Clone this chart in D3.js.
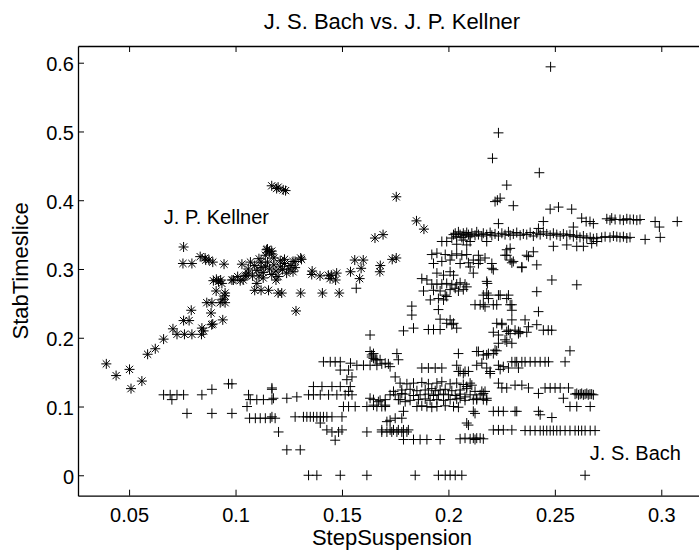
<!DOCTYPE html>
<html>
<head>
<meta charset="utf-8">
<script src="https://cdn.jsdelivr.net/npm/d3@7"></script>
<style>
  body { margin: 0; background: #fff; }
  svg { display: block; font-family: "Liberation Sans", Arial, Helvetica, sans-serif; }
</style>
</head>
<body>
<svg id="chart"></svg>
<script>
// Figure size and axes box (right edge is outside the cropped figure)
const width = 699;
const height = 552;
const box = { left: 78, right: 706, top: 46, bottom: 495.7 };

// Tick values and labels
const xTicks = [0.05, 0.1, 0.15, 0.2, 0.25, 0.3];
const xTickLabels = ["0.05", "0.1", "0.15", "0.2", "0.25", "0.3"];
const yTicks = [0, 0.1, 0.2, 0.3, 0.4, 0.5, 0.6];
const yTickLabels = ["0", "0.1", "0.2", "0.3", "0.4", "0.5", "0.6"];

// J. P. Kellner pieces: [StepSuspension, StabTimeslice]
const kellner = [
  [0.0393,0.162],[0.0439,0.145],[0.0502,0.154],[0.0509,0.126],[0.0560,0.137],
  [0.0587,0.176],[0.0623,0.184],[0.0662,0.198],[0.0706,0.213],
  [0.0725,0.205],[0.0760,0.205],[0.0795,0.205],[0.0756,0.225],[0.0782,0.225],[0.0792,0.240],
  [0.0840,0.205],[0.0842,0.214],[0.0850,0.210],
  [0.0756,0.332],[0.0753,0.308],[0.0795,0.308],
  [0.0834,0.318],[0.0857,0.316],[0.0860,0.313],[0.0875,0.313],[0.0893,0.310],[0.0946,0.307],
  [0.0865,0.251],[0.0889,0.251],[0.0928,0.251],[0.0951,0.251],[0.0940,0.256],
  [0.0885,0.236],[0.0893,0.220],[0.0940,0.226],[0.0888,0.219],
  [0.0896,0.283],[0.0910,0.285],[0.0920,0.282],[0.0930,0.284],[0.0936,0.279],
  [0.0909,0.268],[0.0951,0.265],[0.0950,0.261],
  [0.0983,0.284],[0.0990,0.284],[0.1010,0.289],[0.1022,0.283],[0.1036,0.284],[0.1045,0.290],
  [0.1050,0.291],[0.1060,0.294],[0.1030,0.307],
  [0.1060,0.300],[0.1070,0.310],[0.1080,0.290],[0.1090,0.305],[0.1100,0.298],[0.1100,0.279],
  [0.1110,0.315],[0.1110,0.290],[0.1120,0.302],[0.1120,0.310],[0.1130,0.295],[0.1130,0.287],
  [0.1140,0.320],[0.1140,0.304],[0.1146,0.328],[0.1150,0.310],[0.1150,0.329],[0.1160,0.325],
  [0.1160,0.300],[0.1170,0.322],[0.1170,0.292],[0.1170,0.326],[0.1180,0.306],[0.1180,0.316],
  [0.1190,0.297],[0.1190,0.284],[0.1200,0.289],[0.1210,0.303],[0.1210,0.312],[0.1220,0.299],
  [0.1230,0.308],[0.1230,0.314],[0.1240,0.294],[0.1250,0.300],[0.1260,0.305],[0.1270,0.296],
  [0.1270,0.311],[0.1280,0.302],[0.1280,0.311],[0.1306,0.316],[0.1310,0.314],
  [0.1090,0.269],[0.1120,0.269],[0.1155,0.269],[0.1200,0.265],[0.1217,0.265],
  [0.1306,0.265],[0.1408,0.265],[0.1487,0.265],[0.1284,0.239],
  [0.1170,0.421],[0.1193,0.417],[0.1200,0.419],[0.1224,0.415],[0.1235,0.414],
  [0.1358,0.292],[0.1360,0.297],[0.1397,0.290],[0.1436,0.291],[0.1444,0.286],
  [0.1450,0.291],[0.1470,0.284],[0.1475,0.294],
  [0.1540,0.296],[0.1560,0.313],[0.1600,0.313],[0.1590,0.301],[0.1583,0.286],
  [0.1680,0.305],[0.1678,0.296],[0.1736,0.314],[0.1755,0.316],
  [0.1655,0.345],[0.1693,0.350],
  [0.1755,0.405],[0.1850,0.370],[0.1885,0.358]
];

// J. S. Bach pieces: [StepSuspension, StabTimeslice]
const bach = [
  [0.0662,0.117],[0.0693,0.117],[0.0725,0.117],[0.0756,0.117],[0.0701,0.110],
  [0.0842,0.117],[0.0889,0.125],[0.0772,0.090],[0.0889,0.090],[0.0983,0.090],
  [0.0967,0.133],[0.0983,0.133],
  [0.1054,0.100],[0.1069,0.110],[0.1061,0.117],[0.1100,0.110],[0.1131,0.110],[0.1171,0.110],[0.1171,0.125],
  [0.1066,0.083],[0.1093,0.083],[0.1116,0.083],[0.1140,0.083],[0.1163,0.083],[0.1186,0.083],
  [0.1202,0.063],[0.1171,0.085],[0.1178,0.112],[0.1171,0.127],[0.1241,0.112],[0.1288,0.114],
  [0.1241,0.037],[0.1304,0.037],
  [0.1280,0.085],[0.1319,0.085],[0.1335,0.085],[0.1351,0.085],[0.1366,0.085],[0.1382,0.085],
  [0.1398,0.085],[0.1413,0.085],[0.1429,0.085],[0.1453,0.085],[0.1500,0.085],
  [0.1398,0.076],[0.1429,0.066],[0.1453,0.063],[0.1468,0.051],[0.1484,0.063],[0.1500,0.066],
  [0.1343,0.117],[0.1366,0.117],[0.1398,0.117],[0.1437,0.117],[0.1476,0.117],[0.1515,0.117],[0.1547,0.117],
  [0.1366,0.129],[0.1406,0.129],[0.1453,0.129],[0.1492,0.129],
  [0.1492,0.153],[0.1531,0.153],[0.1523,0.139],[0.1547,0.143],[0.1539,0.129],[0.1531,0.122],
  [0.1507,0.100],[0.1531,0.100],[0.1562,0.100],[0.1617,0.100],[0.1664,0.100],[0.1703,0.100],
  [0.1413,0.165],[0.1445,0.165],[0.1468,0.165],[0.1492,0.165],[0.1540,0.163],[0.1570,0.160],
  [0.1601,0.160],[0.1632,0.160],[0.1664,0.160],[0.1687,0.162],[0.1718,0.162],
  [0.1567,0.272],[0.1632,0.204],[0.1632,0.180],[0.1640,0.175],[0.1648,0.170],[0.1664,0.168],
  [0.1617,0.063],[0.1687,0.063],[0.1711,0.063],[0.1734,0.063],[0.1758,0.063],[0.1781,0.063],[0.1805,0.063],
  [0.1343,0],[0.1382,0],[0.1492,0],[0.1617,0],[0.1844,0],[0.1953,0],[0.1985,0],[0.2008,0],
  [0.2032,0],[0.2063,0],[0.2642,0],[0.2086,0.076],
  [0.1648,0.177],[0.1656,0.168],[0.1640,0.172],[0.1679,0.168],[0.1703,0.163],[0.1726,0.158],
  [0.1758,0.177],[0.1765,0.168],[0.1750,0.143],
  [0.1875,0.156],[0.1906,0.156],[0.1938,0.156],[0.1969,0.156],
  [0.2047,0.177],[0.2039,0.160],[0.2047,0.151],[0.2070,0.148],[0.2094,0.151],
  [0.2133,0.180],[0.2164,0.175],[0.2188,0.177],[0.2219,0.182],[0.2235,0.192],[0.2274,0.194],
  [0.2141,0.180],[0.2180,0.175],[0.2211,0.177],[0.2227,0.181],[0.2266,0.197],[0.2298,0.192],
  [0.2133,0.160],[0.2157,0.163],[0.2180,0.156],[0.2196,0.148],
  [0.2235,0.160],[0.2258,0.158],[0.2282,0.156],[0.2313,0.165],[0.2329,0.156],
  [0.1773,0.134],[0.1805,0.133],[0.1836,0.134],[0.1875,0.135],[0.1906,0.133],[0.1946,0.134],
  [0.1969,0.136],[0.2008,0.133],[0.2039,0.134],[0.2070,0.132],[0.2102,0.134],
  [0.1781,0.124],[0.1820,0.125],[0.1852,0.123],[0.1891,0.124],[0.1922,0.126],[0.1938,0.123],
  [0.1961,0.124],[0.1985,0.125],[0.2016,0.123],[0.2055,0.124],[0.2086,0.126],
  [0.1726,0.117],[0.1750,0.117],[0.1797,0.118],[0.1836,0.116],[0.1867,0.117],[0.1906,0.118],
  [0.1930,0.116],[0.1953,0.117],[0.1977,0.118],[0.2000,0.117],[0.2032,0.116],[0.2055,0.118],
  [0.2102,0.117],[0.2149,0.117],
  [0.1648,0.110],[0.1679,0.109],[0.1703,0.110],[0.1773,0.110],[0.1820,0.109],[0.1859,0.110],
  [0.1891,0.111],[0.1914,0.109],[0.1946,0.110],[0.1977,0.109],[0.2008,0.110],[0.2039,0.111],
  [0.2078,0.109],[0.2133,0.110],[0.2180,0.109],
  [0.1852,0.100],[0.1875,0.101],[0.1899,0.100],[0.1922,0.099],[0.1946,0.100],[0.1985,0.101],
  [0.2024,0.100],[0.2047,0.099],
  [0.2235,0.134],[0.2251,0.127],[0.2274,0.127],[0.2313,0.131],
  [0.1632,0.112],[0.1648,0.102],[0.1671,0.107],[0.1687,0.100],[0.1703,0.102],
  [0.1742,0.122],[0.1765,0.110],[0.1781,0.119],[0.1797,0.107],
  [0.2133,0.112],[0.2164,0.119],[0.2180,0.112],
  [0.2211,0.093],[0.2235,0.093],[0.2258,0.093],[0.2313,0.093],[0.2125,0.090],[0.2094,0.073],
  [0.1789,0.093],[0.1781,0.083],[0.1750,0.083],[0.1726,0.080],[0.1711,0.078],
  [0.1687,0.066],[0.1726,0.066],[0.1742,0.066],[0.1765,0.066],[0.1789,0.066],[0.1812,0.066],
  [0.1789,0.052],[0.1836,0.052],[0.1867,0.052],[0.1899,0.052],[0.1961,0.052],[0.2055,0.053],
  [0.2078,0.054],[0.2102,0.053],[0.2117,0.054],[0.2125,0.052],[0.2133,0.054],[0.2149,0.054],[0.2164,0.053],
  [0.2211,0.066],[0.2235,0.066],[0.2258,0.066],[0.2298,0.066],
  [0.2360,0.065],[0.2384,0.065],[0.2407,0.065],[0.2431,0.065],[0.2446,0.065],[0.2462,0.065],
  [0.2478,0.065],[0.2493,0.065],[0.2509,0.065],[0.2525,0.065],[0.2548,0.065],[0.2571,0.065],
  [0.2595,0.065],[0.2611,0.065],[0.2626,0.065],[0.2642,0.065],[0.2666,0.065],[0.2689,0.065],
  [0.2211,0.208],[0.2337,0.208],[0.2368,0.208],[0.2571,0.181],[0.2548,0.165],
  [0.2298,0.165],[0.2321,0.165],[0.2345,0.165],[0.2360,0.165],[0.2384,0.165],[0.2407,0.165],
  [0.2431,0.165],[0.2454,0.165],[0.2470,0.165],
  [0.2243,0.154],[0.2196,0.151],[0.2055,0.151],[0.2078,0.151],
  [0.2086,0.129],[0.2110,0.131],[0.2125,0.122],[0.2157,0.122],[0.2172,0.122],
  [0.2345,0.131],[0.2376,0.127],[0.2423,0.119],[0.2454,0.127],[0.2478,0.127],[0.2501,0.127],
  [0.2525,0.127],[0.2564,0.127],
  [0.2595,0.118],[0.2603,0.119],[0.2611,0.117],[0.2619,0.118],[0.2626,0.119],[0.2634,0.117],
  [0.2642,0.118],[0.2650,0.119],[0.2657,0.117],[0.2665,0.118],[0.2673,0.118],[0.2681,0.117],
  [0.2540,0.112],[0.2571,0.100],[0.2603,0.100],[0.2666,0.100],
  [0.2055,0.112],[0.2078,0.114],[0.2117,0.110],[0.2164,0.110],
  [0.2117,0.093],[0.2321,0.093],[0.2423,0.093],[0.2431,0.088],[0.2486,0.084],
  [0.2235,0.366],
  [0.1969,0.340],[0.1992,0.340],[0.2039,0.336],[0.2070,0.342],[0.2086,0.335],[0.2102,0.340],
  [0.1922,0.321],[0.1946,0.323],[0.1985,0.321],[0.2016,0.320],[0.2039,0.322],[0.2063,0.320],[0.2086,0.321],
  [0.2180,0.340],[0.2274,0.320],[0.2290,0.330],[0.2298,0.309],[0.2305,0.311],
  [0.1930,0.308],[0.1969,0.311],[0.2008,0.313],[0.2055,0.308],[0.2094,0.309],[0.2102,0.303],
  [0.2141,0.320],[0.2149,0.313],[0.2172,0.316],[0.2204,0.308],
  [0.1875,0.286],[0.1899,0.284],[0.1946,0.294],[0.1977,0.291],[0.2008,0.296],[0.2024,0.291],
  [0.1922,0.278],[0.1946,0.278],[0.1969,0.278],[0.1992,0.279],[0.2016,0.277],[0.2039,0.278],
  [0.2055,0.280],[0.2078,0.278],[0.2117,0.294],[0.2180,0.282],
  [0.1883,0.268],[0.1930,0.269],[0.1961,0.268],[0.1985,0.262],[0.2008,0.270],[0.2032,0.272],
  [0.2047,0.268],[0.2070,0.270],[0.2086,0.274],
  [0.1915,0.255],[0.1953,0.257],[0.1977,0.255],[0.1992,0.260],
  [0.1828,0.246],[0.1828,0.233],[0.1953,0.241],
  [0.2125,0.248],[0.2164,0.248],[0.2180,0.265],[0.2188,0.257],[0.2235,0.262],[0.2274,0.257],
  [0.2227,0.248],[0.2172,0.245],[0.2298,0.248],[0.2298,0.240],
  [0.1789,0.210],[0.1836,0.214],[0.1906,0.212],[0.1930,0.212],[0.1961,0.212],[0.1992,0.221],
  [0.2016,0.219],[0.2039,0.214],
  [0.2235,0.204],[0.2251,0.219],[0.2274,0.209],[0.2290,0.206],[0.2313,0.211],[0.2329,0.206],
  [0.1961,0.227],[0.2008,0.226],[0.2024,0.221],
  [0.2207,0.461],[0.2427,0.440],[0.2274,0.422],[0.2219,0.398],[0.2243,0.403],[0.2230,0.400],[0.2305,0.392],
  [0.2478,0.387],[0.2517,0.390],[0.2579,0.387],
  [0.2626,0.374],[0.2647,0.369],[0.2665,0.369],[0.2681,0.366],
  [0.2744,0.373],[0.2759,0.371],[0.2767,0.374],[0.2783,0.372],[0.2806,0.372],[0.2822,0.371],
  [0.2838,0.373],[0.2853,0.372],[0.2869,0.372],[0.2885,0.371],[0.2900,0.372],
  [0.2971,0.369],[0.2991,0.361],[0.3075,0.369],
  [0.2736,0.347],[0.2759,0.346],[0.2775,0.348],[0.2791,0.347],[0.2806,0.346],[0.2822,0.347],
  [0.2838,0.345],[0.2853,0.346],[0.2924,0.343],[0.2995,0.346],
  [0.2446,0.369],[0.2423,0.359],[0.2587,0.361],
  [0.2556,0.335],[0.2603,0.333],[0.2634,0.333],[0.2673,0.337],[0.2697,0.340],[0.2493,0.333],
  [0.2376,0.318],[0.2368,0.320],[0.2399,0.325],[0.2415,0.306],[0.2345,0.303],
  [0.2274,0.328],[0.2266,0.320],[0.2290,0.313],
  [0.2486,0.284],[0.2603,0.277],[0.2415,0.267],[0.2423,0.238],
  [0.2360,0.226],[0.2376,0.216],[0.2415,0.219],[0.2446,0.211],[0.2469,0.211],[0.2485,0.211],
  [0.2227,0.221],[0.2251,0.221],[0.2298,0.226],[0.2282,0.211],[0.2329,0.209],
  [0.2149,0.248],[0.2211,0.248],[0.2290,0.248],
  [0.2164,0.262],[0.2188,0.262],[0.2243,0.262],[0.2282,0.262],
  [0.2183,0.279],[0.2345,0.302],
  [0.2117,0.313],[0.2141,0.308],[0.2204,0.301],[0.2211,0.299],
  [0.2016,0.345],[0.2024,0.350],[0.2032,0.352],[0.2039,0.347],[0.2047,0.354],[0.2055,0.350],
  [0.2063,0.346],[0.2070,0.352],[0.2078,0.349],[0.2086,0.353],[0.2094,0.350],[0.2102,0.347],
  [0.2110,0.352],[0.2125,0.349],[0.2133,0.354],[0.2141,0.350],[0.2157,0.348],[0.2164,0.352],
  [0.2180,0.350],[0.2196,0.353],[0.2204,0.349],[0.2219,0.351],[0.2235,0.348],[0.2251,0.352],
  [0.2266,0.350],[0.2282,0.354],[0.2290,0.349],[0.2305,0.351],[0.2321,0.353],[0.2337,0.349],
  [0.2352,0.351],[0.2368,0.350],[0.2384,0.353],[0.2399,0.348],[0.2415,0.352],[0.2431,0.350],
  [0.2446,0.354],[0.2462,0.351],[0.2478,0.349],[0.2493,0.352],[0.2509,0.350],[0.2525,0.348],
  [0.2540,0.351],[0.2556,0.349],[0.2571,0.350],[0.2587,0.347],[0.2603,0.349],[0.2618,0.346],
  [0.2634,0.348],[0.2650,0.345],[0.2666,0.346],[0.2681,0.344],[0.2697,0.345],[0.2720,0.346],
  [0.2480,0.594],[0.2235,0.498]
];

// Annotations placed in data coordinates
const labels = [
  { text: "J. P. Kellner", x: 0.0663, y: 0.366 },
  { text: "J. S. Bach", x: 0.2664, y: 0.022 }
];

const svg = d3.select("#chart")
    .attr("width", width)
    .attr("height", height);

svg.append("rect")
    .attr("width", width)
    .attr("height", height)
    .attr("fill", "#fff");

// Scales
const x = d3.scaleLinear()
    .domain([0.0260, 0.3210])
    .range([box.left, box.right]);

const y = d3.scaleLinear()
    .domain([-0.0297, 0.6243])
    .range([box.bottom, box.top]);

// Axes, ticks pointing inward like MATLAB
const fmtX = (d, i) => xTickLabels[i];
const fmtY = (d, i) => yTickLabels[i];

const gBottom = svg.append("g")
    .attr("transform", `translate(0,${box.bottom})`)
    .call(d3.axisBottom(x).tickValues(xTicks).tickFormat(fmtX)
        .tickSizeInner(-6).tickSizeOuter(0).tickPadding(12));

svg.append("g")
    .attr("transform", `translate(0,${box.top})`)
    .call(d3.axisTop(x).tickValues(xTicks).tickFormat("")
        .tickSizeInner(-6).tickSizeOuter(0));

const gLeft = svg.append("g")
    .attr("transform", `translate(${box.left},0)`)
    .call(d3.axisLeft(y).tickValues(yTicks).tickFormat(fmtY)
        .tickSizeInner(-6).tickSizeOuter(0).tickPadding(4));

svg.append("g")
    .attr("transform", `translate(${box.right},0)`)
    .call(d3.axisRight(y).tickValues(yTicks).tickFormat("")
        .tickSizeInner(-6).tickSizeOuter(0));

svg.selectAll(".domain").attr("stroke", "#000").attr("stroke-width", 1.3);
svg.selectAll(".tick line").attr("stroke", "#000").attr("stroke-width", 1);
svg.selectAll(".tick text")
    .attr("fill", "#000")
    .attr("font-family", "'Liberation Sans', Arial, sans-serif")
    .attr("font-size", 20);
gLeft.selectAll(".tick text").attr("dy", "0.4em");

// Markers
const plusPath = "M-5,0H5M0,-5V5";
const starPath = "M-5,0H5M0,-5V5M-3.6,-3.6L3.6,3.6M-3.6,3.6L3.6,-3.6";

const plot = svg.append("g");

plot.selectAll("path.bach")
    .data(bach)
    .join("path")
    .attr("class", "bach")
    .attr("d", plusPath)
    .attr("transform", d => `translate(${x(d[0])},${y(d[1])})`)
    .attr("fill", "none")
    .attr("stroke", "#000")
    .attr("stroke-width", 1);

plot.selectAll("path.kellner")
    .data(kellner)
    .join("path")
    .attr("class", "kellner")
    .attr("d", starPath)
    .attr("transform", d => `translate(${x(d[0])},${y(d[1])})`)
    .attr("fill", "none")
    .attr("stroke", "#000")
    .attr("stroke-width", 1);

// Text annotations
svg.selectAll("text.note")
    .data(labels)
    .join("text")
    .attr("class", "note")
    .attr("x", d => x(d.x))
    .attr("y", d => y(d.y))
    .attr("font-size", 20)
    .attr("fill", "#000")
    .text(d => d.text);

// Title and axis labels
svg.append("text")
    .attr("x", (box.left + box.right) / 2)
    .attr("y", 29)
    .attr("text-anchor", "middle")
    .attr("font-size", 22)
    .text("J. S. Bach vs. J. P. Kellner");

svg.append("text")
    .attr("x", (box.left + box.right) / 2)
    .attr("y", 545)
    .attr("text-anchor", "middle")
    .attr("font-size", 22)
    .text("StepSuspension");

svg.append("text")
    .attr("transform", `translate(28,${(box.top + box.bottom) / 2}) rotate(-90)`)
    .attr("text-anchor", "middle")
    .attr("font-size", 22)
    .text("StabTimeslice");
</script>
</body>
</html>
